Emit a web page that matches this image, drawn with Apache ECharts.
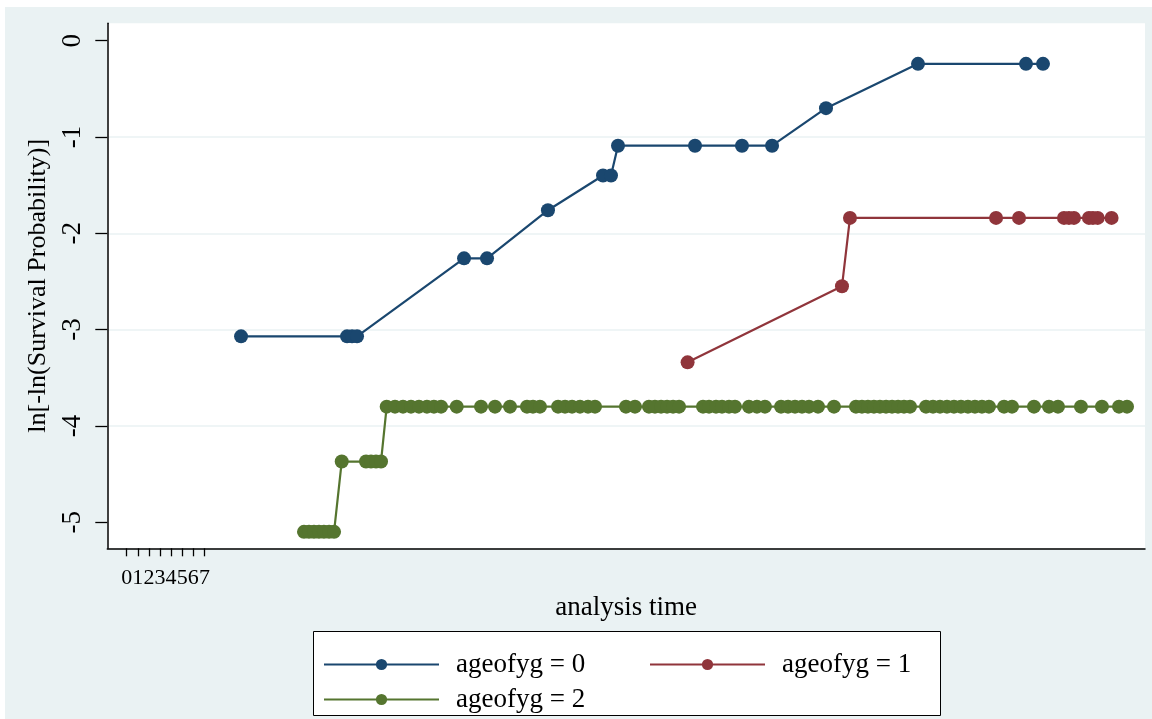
<!DOCTYPE html>
<html><head><meta charset="utf-8">
<script src="https://cdn.jsdelivr.net/npm/echarts@6/dist/echarts.min.js"></script>
<style>
html,body{margin:0;padding:0;background:#fff;width:1152px;height:719px;overflow:hidden}
#c{position:absolute;left:5px;top:7px;width:1147px;height:712px}
</style></head><body><div id="c"></div>
<script>
// ---- data ----
const xTickLabels = [0, 1, 2, 3, 4, 5, 6, 7];
const yTickValues = [-5, -4, -3, -2, -1, 0];
const seriesNames = ['ageofyg = 0', 'ageofyg = 1', 'ageofyg = 2'];

const g0Time  = [10.30, 19.85, 20.30, 20.75, 30.39, 32.46, 37.95, 42.91, 43.63, 44.26, 51.20, 55.43, 58.14, 63.00, 71.29, 81.02, 82.55];
const g0Value = [-3.07, -3.07, -3.07, -3.07, -2.26, -2.26, -1.76, -1.40, -1.40, -1.09, -1.09, -1.09, -1.09, -0.70, -0.24, -0.24, -0.24];

const g1Time  = [50.53, 64.44, 65.16, 78.32, 80.39, 84.44, 84.89, 85.34, 86.69, 87.05, 87.48, 88.73];
const g1Value = [-3.34, -2.55, -1.84, -1.84, -1.84, -1.84, -1.84, -1.84, -1.84, -1.84, -1.84, -1.84];

const g2Time = [
  15.97, 16.42, 16.87, 17.32, 17.77, 18.23, 18.68,
  19.37, 21.56, 22.01, 22.46, 22.91,
  23.42, 24.17, 24.89, 25.61, 26.33, 27.05, 27.68, 28.32, 29.73, 31.92,
  33.18, 34.53, 36.06, 36.60, 37.23, 38.86, 39.49, 40.12, 40.84, 41.56,
  42.19, 44.98, 45.79, 47.05, 47.59, 48.14, 48.68, 49.22, 49.76, 51.92,
  52.46, 53.09, 53.63, 54.26, 54.80, 56.06, 56.78, 57.50, 58.95, 59.58,
  60.21, 60.84, 61.47, 62.28, 63.72, 65.70, 66.24, 66.78, 67.32, 67.86,
  68.41, 68.95, 69.49, 70.03, 70.57, 72.01, 72.64, 73.27, 73.90, 74.53,
  75.16, 75.79, 76.42, 77.05, 77.68, 79.04, 79.76, 81.74, 83.09, 83.90,
  85.97, 87.86, 89.40, 90.12
];
const g2Value = [
  -5.10, -5.10, -5.10, -5.10, -5.10, -5.10, -5.10,
  -4.37, -4.37, -4.37, -4.37, -4.37,
  -3.80, -3.80, -3.80, -3.80, -3.80, -3.80, -3.80, -3.80, -3.80, -3.80,
  -3.80, -3.80, -3.80, -3.80, -3.80, -3.80, -3.80, -3.80, -3.80, -3.80,
  -3.80, -3.80, -3.80, -3.80, -3.80, -3.80, -3.80, -3.80, -3.80, -3.80,
  -3.80, -3.80, -3.80, -3.80, -3.80, -3.80, -3.80, -3.80, -3.80, -3.80,
  -3.80, -3.80, -3.80, -3.80, -3.80, -3.80, -3.80, -3.80, -3.80, -3.80,
  -3.80, -3.80, -3.80, -3.80, -3.80, -3.80, -3.80, -3.80, -3.80, -3.80,
  -3.80, -3.80, -3.80, -3.80, -3.80, -3.80, -3.80, -3.80, -3.80, -3.80,
  -3.80, -3.80, -3.80, -3.80
];

// ---- styling ----
const COLORS = ['#1a476f', '#90353b', '#55752f'];
const FONT = 'Liberation Serif';
const pair = (xs, ys) => xs.map((x, i) => [x, ys[i]]);

const chart = echarts.init(document.getElementById('c'));
const mkSeries = (name, xs, ys, color) => ({
  name, type: 'line', data: pair(xs, ys),
  symbol: 'circle', symbolSize: 14, showSymbol: true, showAllSymbol: true,
  itemStyle: { color }, lineStyle: { color, width: 2.2 },
  emphasis: { disabled: true }, animation: false, clip: false
});
const legendText = { fontFamily: FONT, fontSize: 27, color: '#000', width: 150, lineHeight: 14, padding: [0, 0, 0, 12] };

chart.setOption({
  backgroundColor: '#eaf2f3',
  animation: false,
  textStyle: { fontFamily: FONT },
  grid: { left: 102.3, right: 7, top: 16.3, bottom: 170.7, show: true, backgroundColor: '#fff', borderWidth: 0 },
  xAxis: {
    type: 'value', min: -1.75, max: 91.74,
    name: 'analysis time', nameLocation: 'middle', nameGap: 40,
    nameTextStyle: { fontFamily: FONT, fontSize: 27, color: '#000' },
    axisLine: { show: true, onZero: false, lineStyle: { color: '#000', width: 1.5 } },
    axisTick: { show: true, interval: 0, customValues: xTickLabels, length: 8, lineStyle: { color: '#000', width: 1.3 } },
    axisLabel: { customValues: xTickLabels, interval: 0, showMinLabel: true, showMaxLabel: true, hideOverlap: false,
      fontFamily: FONT, fontSize: 22, color: '#000', margin: 19 },
    splitLine: { show: false }
  },
  yAxis: {
    type: 'value', min: -5.271, max: 0.181,
    name: 'ln[-ln(Survival Probability)]', nameLocation: 'middle', nameGap: 52, nameRotate: 90,
    nameTextStyle: { fontFamily: FONT, fontSize: 26, color: '#000' },
    axisLine: { show: true, onZero: false, lineStyle: { color: '#000', width: 1.5 } },
    axisTick: { show: true, customValues: yTickValues, length: 12, lineStyle: { color: '#000', width: 1.3 } },
    axisLabel: { customValues: yTickValues, showMinLabel: true, showMaxLabel: true, rotate: 90,
      fontFamily: FONT, fontSize: 27, color: '#000', margin: 21 },
    splitLine: { show: true, showMinLine: false, showMaxLine: false, lineStyle: { color: '#eaf2f3', width: 1.5 } }
  },
  legend: [
    { data: [seriesNames[0], seriesNames[1]], left: 318, top: 644, orient: 'horizontal',
      itemWidth: 115, itemHeight: 14, itemGap: 43, padding: 0, selectedMode: false, textStyle: legendText },
    { data: [seriesNames[2]], left: 318, top: 679, orient: 'horizontal',
      itemWidth: 115, itemHeight: 14, itemGap: 43, padding: 0, selectedMode: false, textStyle: legendText }
  ],
  graphic: [{
    type: 'rect', left: 308, top: 624, z: 1,
    shape: { width: 627, height: 84 },
    style: { fill: '#fff', stroke: '#000', lineWidth: 1 }
  }],
  series: [
    mkSeries(seriesNames[0], g0Time, g0Value, COLORS[0]),
    mkSeries(seriesNames[1], g1Time, g1Value, COLORS[1]),
    mkSeries(seriesNames[2], g2Time, g2Value, COLORS[2])
  ]
});
</script></body></html>
